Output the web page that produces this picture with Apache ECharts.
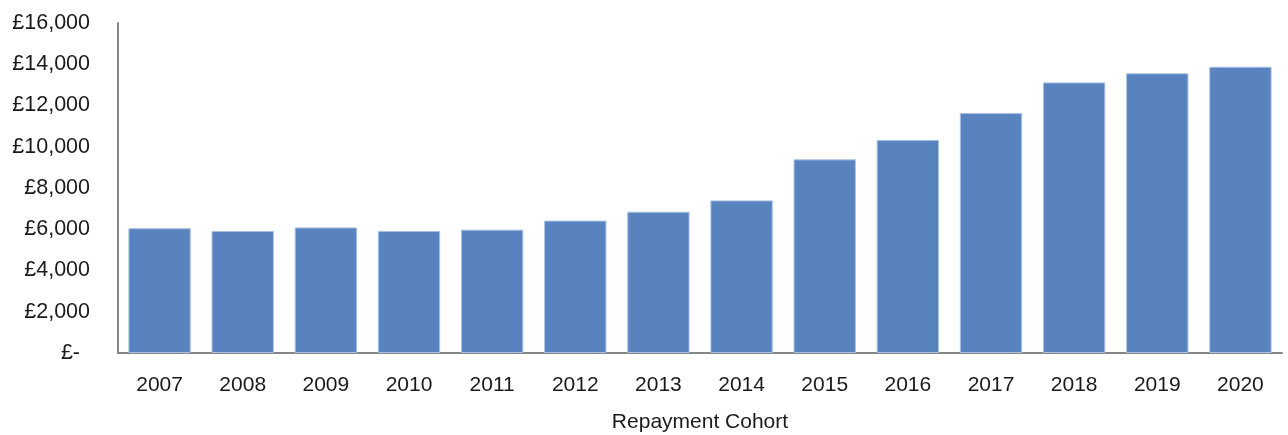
<!DOCTYPE html>
<html><head><meta charset="utf-8">
<script src="https://cdn.jsdelivr.net/npm/echarts@6/dist/echarts.min.js"></script>
<style>html,body{margin:0;padding:0;background:#fff}#c{width:1288px;height:435px}</style>
</head><body><div id="c"></div>
<script>
const categories = ['2007','2008','2009','2010','2011','2012','2013','2014','2015','2016','2017','2018','2019','2020'];
const values = [6050, 5920, 6090, 5920, 5980, 6420, 6850, 7400, 9390, 10330, 11640, 13120, 13560, 13880];
const yTicks = { min: 0, max: 16000, interval: 2000 };
const xAxisTitle = 'Repayment Cohort';

const chart = echarts.init(document.getElementById('c'));
const font = 'Liberation Sans, Arial, sans-serif';
chart.setOption({
  animation: false,
  grid: { left: 118, right: 6, top: 23, bottom: 82, containLabel: false, outerBoundsMode: 'none' },
  xAxis: {
    type: 'category', data: categories,
    name: xAxisTitle, nameLocation: 'middle', nameGap: 59,
    nameTextStyle: { fontFamily: font, fontSize: 21, color: '#1a1a1a' },
    axisLine: { lineStyle: { color: '#868686', width: 2 } },
    axisTick: { show: false },
    axisLabel: { fontFamily: font, fontSize: 21, color: '#1a1a1a', margin: 22 }
  },
  yAxis: {
    type: 'value', min: yTicks.min, max: yTicks.max, interval: yTicks.interval,
    axisLine: { show: true, lineStyle: { color: '#868686', width: 2 } },
    axisTick: { show: false },
    splitLine: { show: false },
    axisLabel: {
      fontFamily: font, fontSize: 21.5, color: '#1a1a1a', margin: 28,
      formatter: v => v === 0 ? '{z|£-}' : '£' + v.toLocaleString('en-GB'),
      rich: { z: { fontFamily: font, fontSize: 21.5, color: '#1a1a1a', padding: [0, 10, 0, 0] } }
    }
  },
  series: [{
    type: 'bar', data: values, barCategoryGap: '25%',
    itemStyle: { color: '#5983bf', borderColor: '#a9c1e3', borderWidth: 1 }
  }]
});
</script></body></html>
